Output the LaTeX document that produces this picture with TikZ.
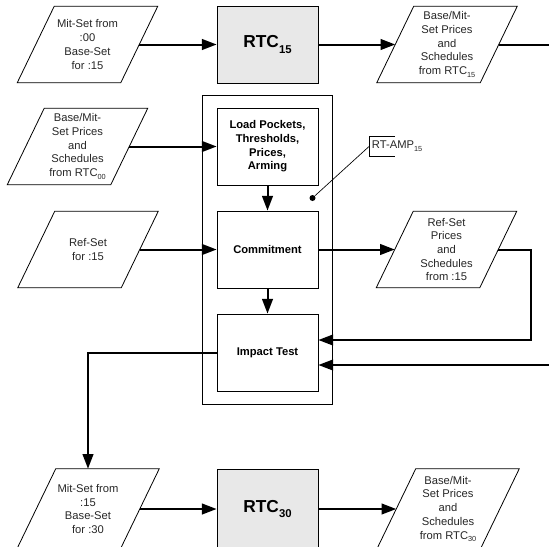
\documentclass[tikz,border=0pt]{standalone}
\usepackage{fontspec}
\setmainfont{Liberation Sans}
\usetikzlibrary{arrows.meta,calc,fit}
\def\lowidx#1{\raisebox{-0.45ex}{\fontsize{5.5}{6}\selectfont #1}}
\def\bigidx#1{\raisebox{-0.55ex}{\fontsize{8.5}{9}\selectfont #1}}
\def\slantbox#1#2{\draw[line width=0.6pt] ($(#1.south west)+(-#2,0)$) -- ($(#1.north west)+(#2,0)$) -- ($(#1.north east)+(#2,0)$) -- ($(#1.south east)+(-#2,0)$) -- cycle;}
\tikzset{
	databox/.style={minimum width=77.25pt, minimum height=57pt, inner sep=0pt, align=center, font=\fontsize{8.4}{10.3}\selectfont, text=black!85},
	stepbox/.style={draw, line width=0.6pt, minimum width=75.75pt, minimum height=57.75pt, inner sep=0pt, align=center, font=\bfseries\fontsize{8.4}{10.3}\selectfont},
	rtcbox/.style={stepbox, fill=black!9, font=\bfseries\fontsize{13}{15}\selectfont},
	flow/.style={line width=1.5pt, -{Triangle[length=11pt,width=8pt]}},
	feed/.style={line width=1.5pt},
	dot/.style={circle, fill, inner sep=0pt, minimum size=4.5pt},
}
\begin{document}
\begin{tikzpicture}[x=0.75pt, y=-0.75pt]
			%%%%% START %%%%%
			\clip (0,0) rectangle (549,546);
			
			\node[databox] (inA) at (87.5,44.5) {Mit-Set from\\:00\\Base-Set\\for :15};
			\slantbox{inA}{18.5}
			\node[rtcbox] (rtcA) at (267.5,44.5) {RTC\bigidx{15}};
			\node[databox] (outA) at (447,44.5) {Base/Mit-\\Set Prices\\and\\Schedules\\from RTC\lowidx{15}};
			\slantbox{outA}{18.5}
			\coordinate (edgeA) at (549,44.5);
			
			\node[stepbox] (load) at (267.5,146.5) {Load Pockets,\\Thresholds,\\Prices,\\Arming};
			\node[stepbox] (commit) at (267.5,249.5) {Commitment};
			\node[stepbox] (impact) at (267.5,352.5) {Impact Test};
			\node[draw, line width=0.6pt, fit=(load)(impact), inner xsep=10.5pt, inner ysep=9.4pt] (amp) {};
			
			\node[databox] (inB) at (77.5,146.5) {Base/Mit-\\Set Prices\\and\\Schedules\\from RTC\lowidx{00}};
			\slantbox{inB}{18.5}
			\node[databox] (inC) at (88,249.5) {Ref-Set\\for :15};
			\slantbox{inC}{18.5}
			\node[databox] (outB) at (446.5,249.5) {Ref-Set\\Prices\\and\\Schedules\\from :15};
			\slantbox{outB}{18.5}
			\coordinate (edgeB) at (549,365);
			
			\node[dot] (ampDot) at (312.5,198) {};
			\node[anchor=west, inner sep=2pt, minimum height=14.25pt, font=\fontsize{8.4}{10.3}\selectfont, text=black!85] (ampTag) at (369,146.5) {RT-AMP\lowidx{15}};
			\draw[line width=0.5pt] ([xshift=19.5pt]ampTag.north west) -- (ampTag.north west) -- (ampTag.south west) -- ([xshift=19.5pt]ampTag.south west);
			\draw[line width=0.5pt] (ampDot) -- (ampTag.west);
			
			\node[databox, minimum height=60pt] (inD) at (88,509) {Mit-Set from\\:15\\Base-Set\\for :30};
			\slantbox{inD}{19.5}
			\node[rtcbox, minimum height=60pt] (rtcB) at (267.5,509) {RTC\bigidx{30}};
			\node[databox, minimum height=60pt] (outC) at (448,509) {Base/Mit-\\Set Prices\\and\\Schedules\\from RTC\lowidx{30}};
			\slantbox{outC}{19.5}
			
			\draw[flow] (inA) -- (rtcA);
			\draw[flow] (rtcA) -- (outA);
			\draw[feed] (outA.east) -- (edgeA);
			\draw[flow] (inB) -- (load);
			\draw[flow] (load) -- (commit);
			\draw[flow] (commit) -- (impact);
			\draw[flow] (inC) -- (commit);
			\draw[flow] (commit) -- (outB);
			\draw[flow] (outB.east) -- ++(32.5,0) |- ($(impact.east)+(0,-12.5)$);
			\draw[flow] (edgeB) -- (edgeB -| impact.east);
			\draw[flow] (impact.west) -| (inD.north);
			\draw[flow] (inD) -- (rtcB);
			\draw[flow] (rtcB) -- (outC);
			
			%%%%% END %%%%%
\end{tikzpicture}
\end{document}
